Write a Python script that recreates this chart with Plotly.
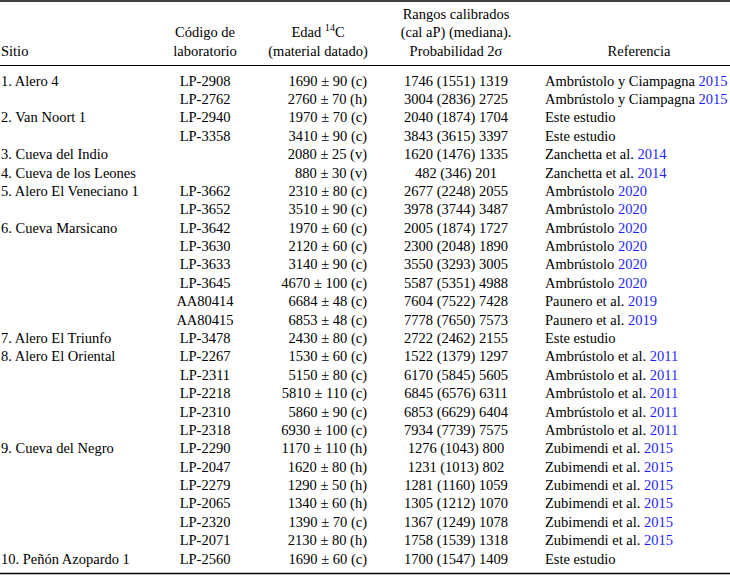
import plotly.graph_objects as go

# ---- data ----
sitio = ["1. Alero 4", "", "2. Van Noort 1", "", "3. Cueva del Indio", "4. Cueva de los Leones",
         "5. Alero El Veneciano 1", "", "6. Cueva Marsicano", "", "", "", "", "",
         "7. Alero El Triunfo", "8. Alero El Oriental", "", "", "", "",
         "9. Cueva del Negro", "", "", "", "", "", "10. Peñón Azopardo 1"]
codigo = ["LP-2908", "LP-2762", "LP-2940", "LP-3358", "", "",
          "LP-3662", "LP-3652", "LP-3642", "LP-3630", "LP-3633", "LP-3645", "AA80414", "AA80415",
          "LP-3478", "LP-2267", "LP-2311", "LP-2218", "LP-2310", "LP-2318",
          "LP-2290", "LP-2047", "LP-2279", "LP-2065", "LP-2320", "LP-2071", "LP-2560"]
edad = ["1690 ± 90 (c)", "2760 ± 70 (h)", "1970 ± 70 (c)", "3410 ± 90 (c)", "2080 ± 25 (v)", "880 ± 30 (v)",
        "2310 ± 80 (c)", "3510 ± 90 (c)", "1970 ± 60 (c)", "2120 ± 60 (c)", "3140 ± 90 (c)", "4670 ± 100 (c)",
        "6684 ± 48 (c)", "6853 ± 48 (c)", "2430 ± 80 (c)", "1530 ± 60 (c)", "5150 ± 80 (c)", "5810 ± 110 (c)",
        "5860 ± 90 (c)", "6930 ± 100 (c)", "1170 ± 110 (h)", "1620 ± 80 (h)", "1290 ± 50 (h)", "1340 ± 60 (h)",
        "1390 ± 70 (c)", "2130 ± 80 (h)", "1690 ± 60 (c)"]
rangos = ["1746 (1551) 1319", "3004 (2836) 2725", "2040 (1874) 1704", "3843 (3615) 3397",
          "1620 (1476) 1335", "482 (346) 201", "2677 (2248) 2055", "3978 (3744) 3487",
          "2005 (1874) 1727", "2300 (2048) 1890", "3550 (3293) 3005", "5587 (5351) 4988",
          "7604 (7522) 7428", "7778 (7650) 7573", "2722 (2462) 2155", "1522 (1379) 1297",
          "6170 (5845) 5605", "6845 (6576) 6311", "6853 (6629) 6404", "7934 (7739) 7575",
          "1276 (1043) 800", "1231 (1013) 802", "1281 (1160) 1059", "1305 (1212) 1070",
          "1367 (1249) 1078", "1758 (1539) 1318", "1700 (1547) 1409"]
ref_autor = ["Ambrústolo y Ciampagna", "Ambrústolo y Ciampagna", "Este estudio", "Este estudio",
             "Zanchetta et al.", "Zanchetta et al.", "Ambrústolo", "Ambrústolo",
             "Ambrústolo", "Ambrústolo", "Ambrústolo", "Ambrústolo", "Paunero et al.", "Paunero et al.",
             "Este estudio", "Ambrústolo et al.", "Ambrústolo et al.", "Ambrústolo et al.",
             "Ambrústolo et al.", "Ambrústolo et al.", "Zubimendi et al.", "Zubimendi et al.",
             "Zubimendi et al.", "Zubimendi et al.", "Zubimendi et al.", "Zubimendi et al.", "Este estudio"]
ref_anio = ["2015", "2015", "", "", "2014", "2014", "2020", "2020", "2020", "2020", "2020", "2020",
            "2019", "2019", "", "2011", "2011", "2011", "2011", "2011",
            "2015", "2015", "2015", "2015", "2015", "2015", ""]

header_sitio = ["Sitio"]
header_codigo = ["Código de", "laboratorio"]
header_edad = ["Edad <sup>14</sup>C", "(material datado)"]
header_rangos = ["Rangos calibrados", "(cal aP) (mediana).", "Probabilidad 2σ"]
header_ref = ["Referencia"]

# ---- layout helpers ----
W, H = 730, 577
FONT = "Liberation Serif, Times New Roman, serif"
FS = 14.5
BLUE = "#1f1fff"
n = len(sitio)
row0, step = 82, (560 - 82) / (n - 1)
rows = [row0 + i * step for i in range(n)]

refs = [a + (" <span style='color:%s'>%s</span>" % (BLUE, y) if y else "") for a, y in zip(ref_autor, ref_anio)]

fig = go.Figure()

def col(x, ys, texts, pos):
    pairs = [(yy, t) for yy, t in zip(ys, texts) if t]
    fig.add_trace(go.Scatter(x=[x] * len(pairs), y=[p[0] for p in pairs], text=[p[1] for p in pairs],
                             mode="text", textposition=pos, hoverinfo="skip", showlegend=False,
                             textfont=dict(family=FONT, size=FS, color="black")))

# body
col(1, rows, sitio, "middle right")
col(205, rows, codigo, "middle center")
col(367, rows, edad, "middle left")
col(456, rows, rangos, "middle center")
col(545, rows, refs, "middle right")

# header
hy3 = [15, 33.5, 52]
col(1, [52], header_sitio, "middle right")
col(205, hy3[1:], header_codigo, "middle center")
col(318, hy3[1:], header_edad, "middle center")
col(456, hy3, header_rangos, "middle center")
col(639, [52], header_ref, "middle center")

for yv, wd in [(1, 1.3), (65.5, 1.0), (573.5, 1.3)]:
    fig.add_shape(type="line", x0=0, x1=W, y0=yv, y1=yv, xref="x", yref="y",
                  line=dict(color="black", width=wd))

fig.update_layout(
    width=W, height=H, margin=dict(l=0, r=0, t=0, b=0),
    paper_bgcolor="white", plot_bgcolor="white",
    xaxis=dict(range=[0, W], visible=False, fixedrange=True),
    yaxis=dict(range=[H, 0], visible=False, fixedrange=True),
)
fig.write_html("out.html", config={"displayModeBar": False},
               post_script="document.body.style.margin='0px';document.body.style.overflow='hidden';")
